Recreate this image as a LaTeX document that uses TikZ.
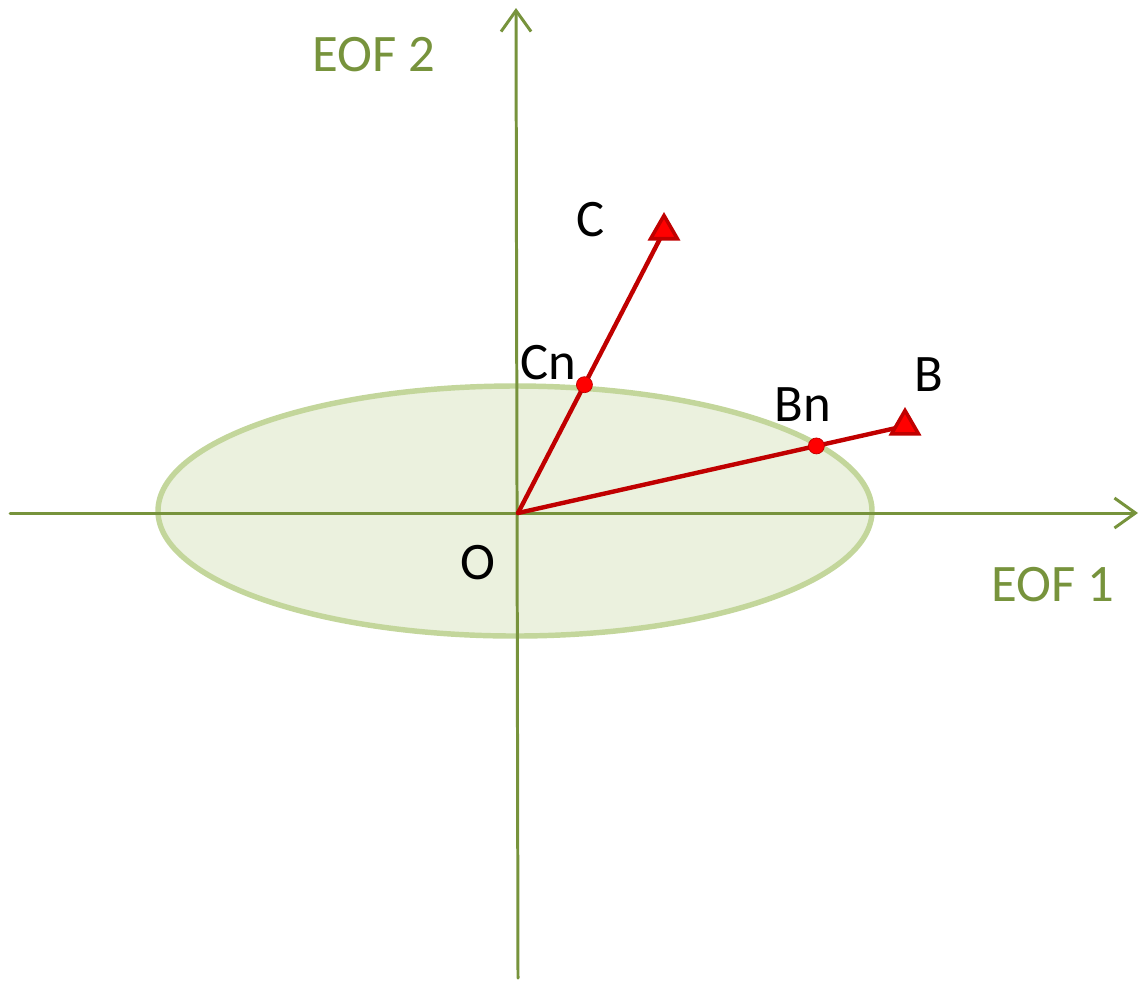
\documentclass[tikz,border=0pt]{standalone}
\usepackage{fontspec}
\setmainfont{Carlito}
\usetikzlibrary{arrows.meta,shapes.geometric,calc}
\definecolor{eofgreen}{HTML}{77933C}
\definecolor{ellfill}{HTML}{EBF1DE}
\definecolor{elldraw}{HTML}{C3D69B}
\definecolor{vecred}{HTML}{C00000}

\begin{document}
\begin{tikzpicture}[x=0.02cm, y=-0.02cm, line cap=round,
    axis/.style={eofgreen, line width=1.7pt, -{Straight Barb[length=0.42cm, width=0.6cm, line width=1.7pt]}},
    vec/.style={vecred, line width=2.5pt},
    tip/.style={regular polygon, regular polygon sides=3, minimum size=0.62cm, inner sep=0pt,
      fill=red, draw=vecred, line width=2pt},
    dot/.style={circle, fill=red, draw=vecred, line width=0.4pt, minimum size=0.32cm, inner sep=0pt},
    lbl/.style={font=\fontsize{30}{36}\selectfont},
    axlbl/.style={font=\fontsize{30}{36}\selectfont, text=eofgreen}]
  \useasboundingbox (0,0) rectangle (1141,981);
  % cloud of normal states
  \draw[elldraw, fill=ellfill, line width=3.1pt] (515,511) ellipse [x radius=357, y radius=125];
  % EOF axes
  \coordinate (O) at (518,513);
  \coordinate (xl) at (10,513);
  \coordinate (xr) at (1138,513);
  \coordinate (yb) at (518,978);
  \coordinate (yt) at (516,8);
  \draw[axis] (xl) -- (xr);
  \draw[axis] (yb) -- (yt);
  \node[axlbl] (eof2) at (374,55) {EOF 2};
  \node[axlbl] (eof1) at (1053,585) {EOF 1};
  % anomaly vectors
  \coordinate (C) at (664,231);
  \coordinate (B) at (905,426);
  \draw[vec] (O) -- (C);
  \draw[vec] (O) -- (B);
  \node[tip] (Ctip) at (C) {};
  \node[tip] (Btip) at (B) {};
  \node[dot] (Cn) at ($(O)!0.455!(C)$) {};
  \node[dot] (Bn) at ($(O)!0.771!(B)$) {};
  % labels
  \node[lbl] at (591,220) {C};
  \node[lbl] at (548,363) {Cn};
  \node[lbl] at (929,375) {B};
  \node[lbl] at (803,405) {Bn};
  \node[lbl] at (478,563) {O};
\end{tikzpicture}
\end{document}
